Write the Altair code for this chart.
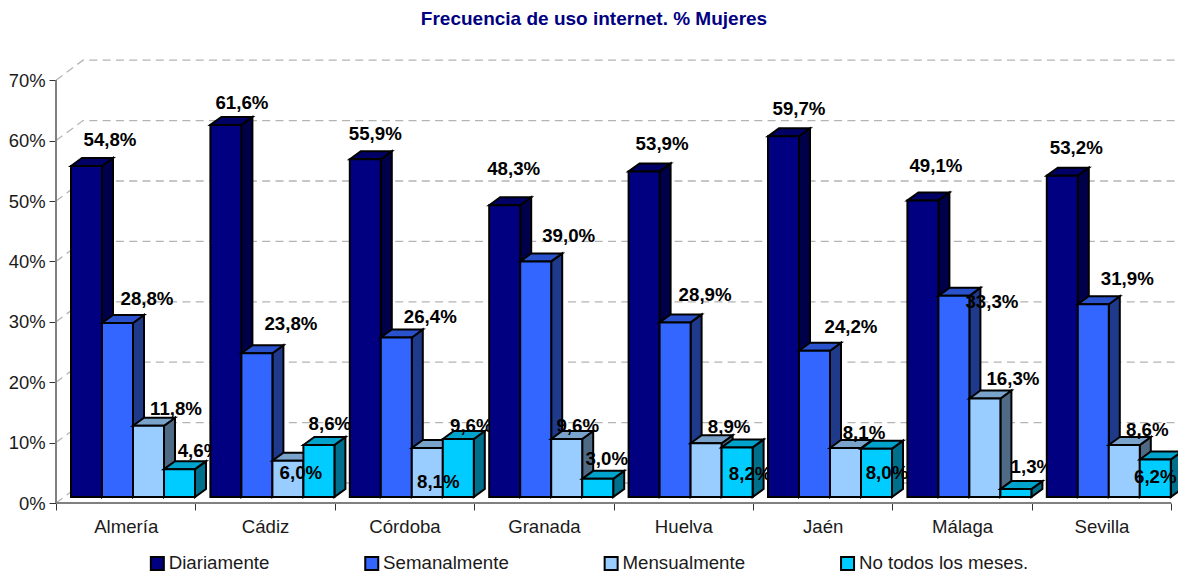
import altair as alt
import pandas as pd

FONT = "Liberation Sans"

categories = ["Almería", "Cádiz", "Córdoba", "Granada", "Huelva", "Jaén", "Málaga", "Sevilla"]
series = ["Diariamente", "Semanalmente", "Mensualmente", "No todos los meses."]

diariamente = [54.8, 61.6, 55.9, 48.3, 53.9, 59.7, 49.1, 53.2]
semanalmente = [28.8, 23.8, 26.4, 39.0, 28.9, 24.2, 33.3, 31.9]
mensualmente = [11.8, 6.0, 8.1, 9.6, 8.9, 8.1, 16.3, 8.6]
no_todos = [4.6, 8.6, 9.6, 3.0, 8.2, 8.0, 1.3, 6.2]
values = [diariamente, semanalmente, mensualmente, no_todos]

front_colors = ["#000080", "#3366FF", "#99CCFF", "#00CCFF"]
side_colors = ["#00004A", "#1F3A8A", "#4F6A85", "#006F8C"]
top_colors = ["#000066", "#2952CC", "#7AA3CC", "#00A3CC"]

# hand-placed data label nudges of the original chart (pixels from the bar's top centre)
nudges = [
    [(23.5, -26), (16, -22), (10, -25), (9, -36), (18, -27), (15.5, -27), (13, -34), (14, -28)],
    [(29.5, -24), (34, -29), (34, -21), (33, -25), (30, -27), (36.5, -24), (38, 6), (34, -25)],
    [(27.5, -17), (13, 12), (11, 34), (11, -13), (23, -16), (18.5, -15), (28, -20), (23, -15)],
    [(19.5, -18), (11, -21), (13, -13), (9, -20), (13, 27), (10.5, 24), (16, -22), (0, 17)],
]

# scale geometry
W, H = 1122, 443
CAT_PX, PCT_PX = 139.4, 6.04
X_MAX, Y_MAX = W / CAT_PX, H / PCT_PX
BAR_LEFT, BAR_W = 15 / CAT_PX, 31 / CAT_PX
DEPTH_X, DEPTH_Y = 11 / CAT_PX, 8 / PCT_PX
BASE = 1.0
WALL_X, WALL_Y = 27 / CAT_PX, 20 / PCT_PX

keys, ranges = [], []
for s, f, sd, tp in zip(series, front_colors, side_colors, top_colors):
    keys += [s, s + " lateral", s + " superior"]
    ranges += [f, sd, tp]

faces, labels = [], []
for i, cat in enumerate(categories):
    for j, s in enumerate(series):
        v = values[j][i]
        x0 = i + BAR_LEFT + j * BAR_W
        x1 = x0 + BAR_W
        xd, yd = DEPTH_X, DEPTH_Y
        t = v + BASE
        fid = f"{i}-{j}"
        faces += [
            dict(cat=i, face=fid + "a", key=s + " lateral", x=x1, y=t, y2=BASE),
            dict(cat=i, face=fid + "a", key=s + " lateral", x=x1 + xd, y=t + yd, y2=BASE + yd),
            dict(cat=i, face=fid + "b", key=s + " superior", x=x0, y=t, y2=t),
            dict(cat=i, face=fid + "b", key=s + " superior", x=x0 + xd, y=t + yd, y2=t),
            dict(cat=i, face=fid + "b", key=s + " superior", x=x1, y=t + yd, y2=t),
            dict(cat=i, face=fid + "b", key=s + " superior", x=x1 + xd, y=t + yd, y2=t + yd),
            dict(cat=i, face=fid + "c", key=s, x=x0, y=t, y2=BASE),
            dict(cat=i, face=fid + "c", key=s, x=x1, y=t, y2=BASE),
        ]
        nx, ny = nudges[j][i]
        labels.append(dict(cat=i, x=x0 + BAR_W / 2 + nx / CAT_PX, y=t - ny / PCT_PX,
                           text=f"{v:.1f}%".replace(".", ",")))
faces = pd.DataFrame(faces)
labels = pd.DataFrame(labels)

ticks = list(range(0, 80, 10))
grid = pd.DataFrame(
    [dict(level=v, step=0, x=0, y=v) for v in ticks]
    + [dict(level=v, step=1, x=WALL_X, y=v + WALL_Y) for v in ticks]
    + [dict(level=v, step=2, x=X_MAX, y=v + WALL_Y) for v in ticks]
)

names = "[" + ",".join(f"'{c}'" for c in categories) + "]"
x_axis = alt.Axis(
    values=[k / 2 for k in range(17)], title=None, grid=False, domain=False,
    labelExpr=f"datum.value%1==0?'':{names}[floor(datum.value)]",
    labelFont=FONT, labelFontSize=18.6, labelColor="#1a1a1a", labelPadding=7,
    labelOverlap=False, labelFlush=False, labelBound=False,
    tickSize=7, tickColor="#333333",
    tickOpacity={"condition": {"test": "datum.value%1==0", "value": 1}, "value": 0},
)
y_axis = alt.Axis(
    values=ticks, title=None, grid=False, domain=False,
    labelExpr="datum.value+'%'",
    labelFont=FONT, labelFontSize=18.4, labelColor="#1a1a1a", labelPadding=4,
    labelOverlap=False, labelBound=False,
    tickSize=7, tickColor="#333333",
)
x_enc = alt.X("x:Q", scale=alt.Scale(domain=[0, X_MAX], nice=False, zero=False), axis=x_axis)
y_enc = alt.Y("y:Q", scale=alt.Scale(domain=[0, Y_MAX], nice=False, zero=False), axis=y_axis, stack=None)

legend = alt.Legend(
    values=series, title=None, orient="none", legendX=92, legendY=494,
    columns=4, columnPadding=90.4, gridAlign="each", padding=0,
    symbolType="square", symbolSize=169, symbolStrokeColor="black", symbolStrokeWidth=2,
    symbolOpacity=1, labelFont=FONT, labelFontSize=18.7, labelColor="#1a1a1a", labelOffset=2,
    labelLimit=400,
)
color_enc = alt.Color("key:N", scale=alt.Scale(domain=keys, range=ranges), legend=legend)

grid_layer = alt.Chart(grid).mark_line(
    color="#b4b4b4", strokeWidth=1.3, strokeDash=[8, 5.3]
).encode(x=x_enc, y=y_enc, detail="level:N", order="step:Q")

axis_lines = pd.DataFrame([dict(x=0, x2=8, y=0, y2=0), dict(x=0, x2=0, y=0, y2=70)])
axis_layer = alt.Chart(axis_lines).mark_rule(color="#808080", strokeWidth=2).encode(
    x=x_enc, x2="x2:Q", y=y_enc, y2="y2:Q"
)

layers = [grid_layer, axis_layer]
for i in range(len(categories)):
    layers.append(
        alt.Chart(faces[faces["cat"] == i]).mark_area(
            stroke="black", strokeWidth=2, strokeJoin="miter", opacity=1, interpolate="linear"
        ).encode(x=x_enc, y=y_enc, y2="y2:Q", color=color_enc, detail="face:N")
    )
    layers.append(
        alt.Chart(labels[labels["cat"] == i]).mark_text(
            font=FONT, fontSize=18.7, fontWeight="bold", color="black", align="center", baseline="middle"
        ).encode(x=x_enc, y=y_enc, text="text:N")
    )

chart = alt.layer(*layers).properties(
    width=W, height=H,
    padding={"left": 48, "top": 52, "right": 0, "bottom": 69},
    autosize=alt.AutoSizeParams(type="none"),
    title=alt.TitleParams(
        "Frecuencia de uso internet. % Mujeres", anchor="middle", dx=-23, offset=29,
        font=FONT, fontSize=19, fontWeight="bold", color="#000080",
    ),
).configure_view(stroke=None)

chart.save("out.html", embed_options={"renderer": "svg", "actions": False})
